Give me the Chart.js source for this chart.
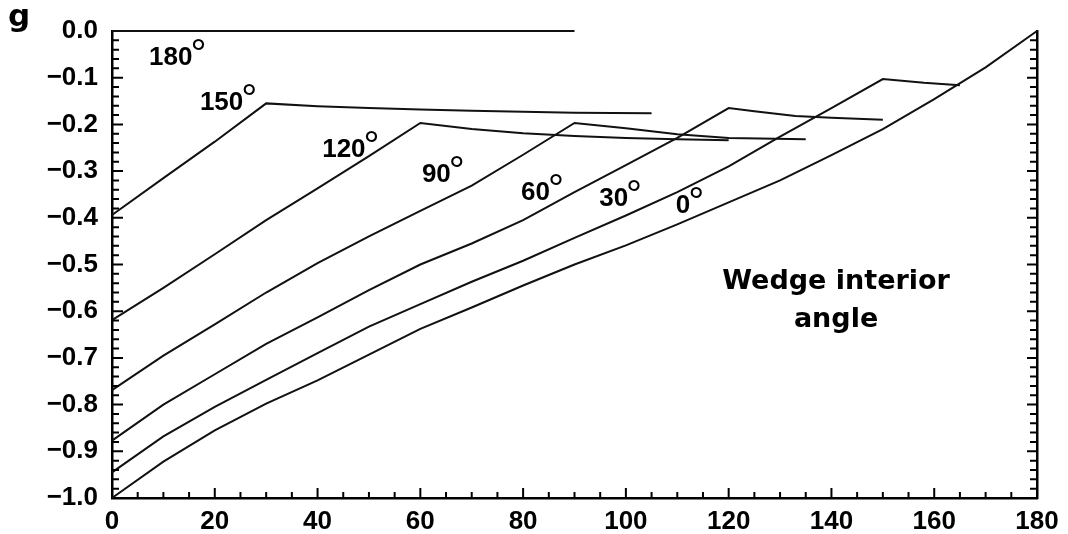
<!DOCTYPE html>
<html>
<head>
<meta charset="utf-8">
<style>
  html, body { margin: 0; padding: 0; background: #fff; }
  #wrap { width: 1068px; height: 534px; }
</style>
<script src="https://cdn.jsdelivr.net/npm/chart.js@4.4.1/dist/chart.umd.min.js"></script>
</head>
<body>
<div id="wrap"><canvas id="chart" width="1068" height="534"></canvas></div>
<script>
// g versus the x coordinate, one curve per wedge interior angle.
// Each curve rises to its peak and then runs along a short, nearly flat tail.
const wedge180X = [0, 90];
const wedge180Y = [0, 0];

const wedge150X = [0, 10, 20, 30, 40, 50, 60, 70, 80, 90, 105];
const wedge150Y = [-0.394, -0.315, -0.237, -0.155, -0.161, -0.165, -0.168, -0.171, -0.173, -0.175, -0.176];

const wedge120X = [0, 10, 20, 30, 40, 50, 60, 70, 80, 90, 100, 110, 120];
const wedge120Y = [-0.619, -0.55, -0.478, -0.405, -0.337, -0.268, -0.197, -0.21, -0.219, -0.225, -0.229, -0.232, -0.234];

const wedge90X = [0, 10, 20, 30, 40, 50, 60, 70, 80, 90, 100, 110, 120, 135];
const wedge90Y = [-0.769, -0.695, -0.628, -0.56, -0.497, -0.44, -0.385, -0.331, -0.265, -0.197, -0.208, -0.221, -0.229, -0.232];

const wedge60X = [0, 10, 20, 30, 40, 50, 60, 70, 80, 90, 100, 110, 120, 125, 133, 140, 150];
const wedge60Y = [-0.877, -0.8, -0.735, -0.67, -0.613, -0.555, -0.5, -0.455, -0.405, -0.345, -0.287, -0.229, -0.165, -0.172, -0.182, -0.186, -0.19];

const wedge30X = [0, 10, 20, 30, 40, 50, 60, 70, 80, 90, 100, 110, 120, 130, 140, 150, 158, 165];
const wedge30Y = [-0.945, -0.868, -0.805, -0.747, -0.69, -0.633, -0.585, -0.537, -0.492, -0.443, -0.395, -0.345, -0.29, -0.226, -0.165, -0.103, -0.111, -0.116];

const wedge0X = [0, 10, 20, 30, 40, 50, 60, 70, 80, 90, 100, 110, 120, 130, 140, 150, 160, 170, 180];
const wedge0Y = [-1.0, -0.922, -0.855, -0.798, -0.748, -0.693, -0.638, -0.592, -0.545, -0.5, -0.459, -0.414, -0.367, -0.32, -0.266, -0.21, -0.146, -0.078, 0];

// Curve names and axis tick labels
const curveNames = ['180', '150', '120', '90', '60', '30', '0'];
const xTickLabels = ['0', '20', '40', '60', '80', '100', '120', '140', '160', '180'];
const yTickLabels = ['0.0', '\u22120.1', '\u22120.2', '\u22120.3', '\u22120.4', '\u22120.5',
                     '\u22120.6', '\u22120.7', '\u22120.8', '\u22120.9', '\u22121.0'];

// Where each curve name is written, in axis units (left edge, baseline)
const nameAnchorX = [7.2, 17.1, 40.9, 60.3, 79.6, 94.8, 109.7];
const nameAnchorY = [-0.073, -0.169, -0.270, -0.323, -0.362, -0.375, -0.390];

const curves = [
  [wedge180X, wedge180Y], [wedge150X, wedge150Y], [wedge120X, wedge120Y],
  [wedge90X, wedge90Y], [wedge60X, wedge60Y], [wedge30X, wedge30Y], [wedge0X, wedge0Y]
];

const datasets = curves.map(([xs, ys], i) => ({
  label: curveNames[i] + '\u00B0',
  data: xs.map((x, k) => ({ x: x, y: ys[k] })),
  showLine: true,
  borderColor: '#111',
  borderWidth: 2,
  pointRadius: 0,
  tension: 0,
  clip: 6
}));

const NUM_FONT = '"Liberation Sans", Arial, sans-serif';
const WORD_FONT = '"DejaVu Sans", sans-serif';

// Inward tick marks on the left, right and bottom axes
const inwardTicks = {
  id: 'inwardTicks',
  afterDatasetsDraw(chart) {
    const { ctx, chartArea: a, scales: { x, y } } = chart;
    ctx.save();
    ctx.strokeStyle = '#000';
    ctx.lineWidth = 2;
    ctx.beginPath();
    for (let i = 1; i < 50; i++) {
      const py = y.getPixelForValue(-i * 0.02);
      const major = i % 5 === 0;
      ctx.moveTo(a.left, py); ctx.lineTo(a.left + (major ? 11 : 7), py);
      ctx.moveTo(a.right, py); ctx.lineTo(a.right - (major ? 10 : 7), py);
    }
    for (let i = 1; i < 36; i++) {
      const v = i * 5;
      const px = x.getPixelForValue(v);
      ctx.moveTo(px, a.bottom); ctx.lineTo(px, a.bottom - (v % 20 === 0 ? 10 : 6));
    }
    ctx.stroke();
    ctx.restore();
  }
};

// Curve names with raised degree rings, the panel letter and the legend note
const annotations = {
  id: 'annotations',
  afterDraw(chart) {
    const { ctx, scales: { x, y } } = chart;
    ctx.save();
    ctx.fillStyle = '#000';
    ctx.textBaseline = 'alphabetic';
    ctx.textAlign = 'left';
    curveNames.forEach((name, i) => {
      const px = x.getPixelForValue(nameAnchorX[i]);
      const py = y.getPixelForValue(nameAnchorY[i]);
      ctx.font = 'bold 26px ' + NUM_FONT;
      ctx.fillText(name, px, py);
      const w = ctx.measureText(name).width;
      ctx.font = '40px ' + NUM_FONT;
      ctx.fillText('\u00B0', px + w - 2, py + 2);
    });

    ctx.font = 'bold 31px ' + WORD_FONT;
    ctx.fillText('g', 8, 26);

    ctx.textAlign = 'center';
    ctx.font = 'bold 27px ' + WORD_FONT;
    const cx = x.getPixelForValue(140.9);
    ctx.fillText('Wedge interior', cx, y.getPixelForValue(-0.5525));
    ctx.fillText('angle', cx, y.getPixelForValue(-0.634));
    ctx.restore();
  }
};

new Chart(document.getElementById('chart'), {
  type: 'scatter',
  data: { datasets },
  plugins: [inwardTicks, annotations],
  options: {
    responsive: false,
    animation: false,
    devicePixelRatio: 1,
    layout: { padding: { left: 0, top: 31, right: 31, bottom: 0 } },
    plugins: { legend: { display: false }, tooltip: { enabled: false } },
    scales: {
      x: {
        type: 'linear',
        position: 'bottom',
        min: 0, max: 180,
        afterFit(s) { s.height = 36; },
        grid: { display: false, drawTicks: false },
        border: { display: true, color: '#000', width: 2.5 },
        ticks: {
          stepSize: 20,
          padding: 8,
          color: '#000',
          font: { family: NUM_FONT, weight: 'bold', size: 26 },
          callback: v => xTickLabels[Math.round(v / 20)]
        }
      },
      y: {
        type: 'linear',
        position: 'left',
        min: -1, max: 0,
        afterFit(s) { s.width = 112; },
        grid: { display: false, drawTicks: false },
        border: { display: true, color: '#000', width: 2.5 },
        ticks: {
          stepSize: 0.1,
          padding: 14,
          color: '#000',
          font: { family: NUM_FONT, weight: 'bold', size: 26 },
          callback: v => yTickLabels[Math.round(-v * 10)]
        }
      },
      yRight: {
        type: 'linear',
        position: 'right',
        min: -1, max: 0,
        afterFit(s) { s.width = 0; },
        grid: { display: false, drawTicks: false },
        border: { display: true, color: '#000', width: 2.5 },
        ticks: { display: false }
      }
    }
  }
});
</script>
</body>
</html>
